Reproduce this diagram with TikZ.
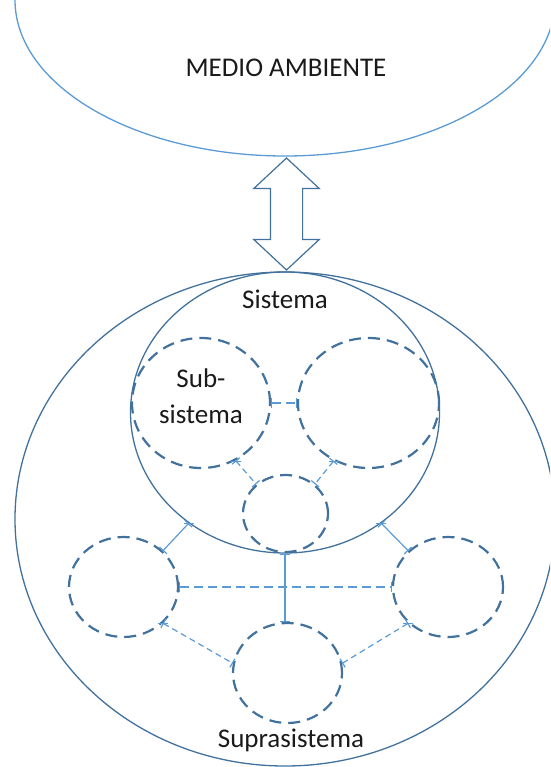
\documentclass[tikz,border=0pt]{standalone}
\usepackage{fontspec}
\setmainfont{Carlito}
\usetikzlibrary{arrows.meta,shapes.geometric,shapes.arrows}
\definecolor{linedark}{HTML}{41719C}
\definecolor{linelight}{HTML}{5B9BD5}
\definecolor{txtgray}{HTML}{1A1A1A}

\begin{document}
\begin{tikzpicture}[x=1pt,y=-1pt,
		every node/.style={font=\fontsize{27}{36}\selectfont, text=txtgray},
		bigring/.style={ellipse, draw=linedark, line width=1.3pt, inner sep=0pt},
		subsys/.style={ellipse, draw=linedark, line width=2.2pt, dash pattern=on 12pt off 7pt, inner sep=0pt},
		conn/.style={draw=linelight, line width=1.2pt, arrows={Bar[width=10pt]-Bar[width=10pt]}},
		conndash/.style={conn, dash pattern=on 9pt off 5pt},
		connshort/.style={conn, dash pattern=on 6pt off 4pt}]
	\useasboundingbox (0,0) rectangle (550,767);
	\clip (0,0) rectangle (550,767);

	% medio ambiente
	\node[ellipse, draw=linelight, line width=1.3pt, minimum width=540pt, minimum height=312pt] (medio) at (285,0) {};
	\node (ma) at (286,68) {MEDIO AMBIENTE};

	% suprasistema y sistema
	\node[bigring, minimum width=540pt, minimum height=494pt] (supra) at (285,519) {};
	\node[bigring, minimum width=309pt, minimum height=281pt] (sis) at (285,412.5) {};
	\node (sislbl) at (285,299) {Sistema};
	\node (supralbl) at (291,740) {Suprasistema};

	\node[double arrow, draw=linedark, fill=white, line width=1.2pt, rotate=90, minimum height=112pt, minimum width=64pt,
		double arrow head extend=16.5pt, double arrow tip angle=94, inner sep=0pt,
		text height=15.5pt, text depth=15.5pt] (flujo) at (286.5,214) {};

	% subsistemas
	\node[subsys, minimum width=138pt, minimum height=130pt,
		label={[align=center, yshift=7pt]center:Sub-\\sistema}] (s1) at (201,403) {};
	\node[subsys, minimum width=141pt, minimum height=130pt] (s2) at (368.5,403) {};
	\node[subsys, minimum width=85pt, minimum height=77pt] (s3) at (285.5,513.5) {};
	\node[subsys, minimum width=109pt, minimum height=100pt] (e1) at (123.5,587) {};
	\node[subsys, minimum width=110pt, minimum height=100pt] (e2) at (448,587) {};
	\node[subsys, minimum width=109pt, minimum height=100pt] (e3) at (287.5,673) {};

	\path [conndash] (s1) edge (s2);
	\path [connshort] (s1.-59) edge (s3.135);
	\path [connshort] (s2.-121) edge (s3.45);
	\path [conn] (sis.-131) edge (e1.north east);
	\path [conn] (sis.-49) edge (e2.north west);
	\path [conn] (sis.south) edge (sis.south |- e3.north);
	\path [conndash] (e1) edge (e2);
	\path [connshort] (e1.south east) edge (e3.170);
	\path [connshort] (e2.south west) edge (e3.10);
\end{tikzpicture}
\end{document}
